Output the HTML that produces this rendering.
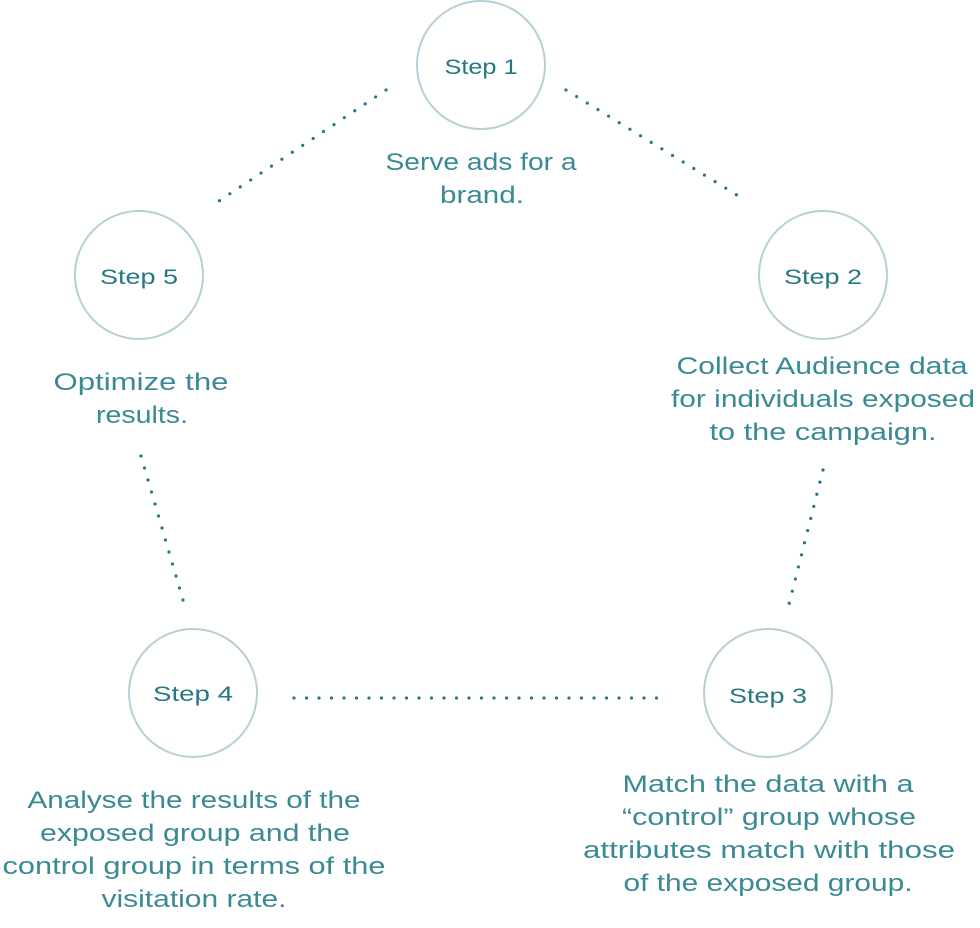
<!DOCTYPE html>
<html><head><meta charset="utf-8"><style>
html,body{margin:0;padding:0;background:#fff;}
svg{display:block}
.c{fill:none;stroke:#b5d0d6;stroke-width:2}
.d{stroke:#267784;stroke-width:3.2;stroke-linecap:round;stroke-dasharray:0 12.5}
.s{font-family:"Liberation Sans",sans-serif;font-size:21px;fill:#267784;text-anchor:middle}
.t{font-family:"Liberation Sans",sans-serif;font-size:24px;fill:#3a8a95;text-anchor:middle}
</style></head><body>
<svg width="980" height="928" viewBox="0 0 980 928">
<line class="d" x1="386" y1="90" x2="210" y2="207"/>
<line class="d" x1="566" y1="90" x2="745" y2="200"/>
<line class="d" x1="823" y1="470" x2="787" y2="612"/>
<line class="d" x1="141" y1="456" x2="185" y2="607"/>
<line class="d" x1="294" y1="698" x2="660" y2="698"/>
<circle class="c" cx="481" cy="65" r="64"/>
<circle class="c" cx="823" cy="275" r="64"/>
<circle class="c" cx="768" cy="693" r="64"/>
<circle class="c" cx="193" cy="693" r="64"/>
<circle class="c" cx="139" cy="275" r="64"/>
<text class="s" x="481" y="74" textLength="73" lengthAdjust="spacingAndGlyphs">Step 1</text>
<text class="s" x="823" y="284" textLength="78" lengthAdjust="spacingAndGlyphs">Step 2</text>
<text class="s" x="768" y="703" textLength="78" lengthAdjust="spacingAndGlyphs">Step 3</text>
<text class="s" x="193" y="701" textLength="80" lengthAdjust="spacingAndGlyphs">Step 4</text>
<text class="s" x="139" y="284" textLength="78" lengthAdjust="spacingAndGlyphs">Step 5</text>
<text class="t" x="481" y="170" textLength="191" lengthAdjust="spacingAndGlyphs">Serve ads for a</text>
<text class="t" x="482" y="203" textLength="84" lengthAdjust="spacingAndGlyphs">brand.</text>
<text class="t" x="822" y="374" textLength="291" lengthAdjust="spacingAndGlyphs">Collect Audience data</text>
<text class="t" x="823" y="407" textLength="304" lengthAdjust="spacingAndGlyphs">for individuals exposed</text>
<text class="t" x="823" y="440" textLength="227" lengthAdjust="spacingAndGlyphs">to the campaign.</text>
<text class="t" x="768" y="792" textLength="291" lengthAdjust="spacingAndGlyphs">Match the data with a</text>
<text class="t" x="769" y="825" textLength="294" lengthAdjust="spacingAndGlyphs">“control” group whose</text>
<text class="t" x="769" y="858" textLength="372" lengthAdjust="spacingAndGlyphs">attributes match with those</text>
<text class="t" x="768" y="891" textLength="289" lengthAdjust="spacingAndGlyphs">of the exposed group.</text>
<text class="t" x="194" y="808" textLength="333" lengthAdjust="spacingAndGlyphs">Analyse the results of the</text>
<text class="t" x="195" y="841" textLength="310" lengthAdjust="spacingAndGlyphs">exposed group and the</text>
<text class="t" x="194" y="874" textLength="383" lengthAdjust="spacingAndGlyphs">control group in terms of the</text>
<text class="t" x="194" y="907" textLength="185" lengthAdjust="spacingAndGlyphs">visitation rate.</text>
<text class="t" x="141" y="390" textLength="175" lengthAdjust="spacingAndGlyphs">Optimize the</text>
<text class="t" x="142" y="423" textLength="92" lengthAdjust="spacingAndGlyphs">results.</text>
</svg>
</body></html>
